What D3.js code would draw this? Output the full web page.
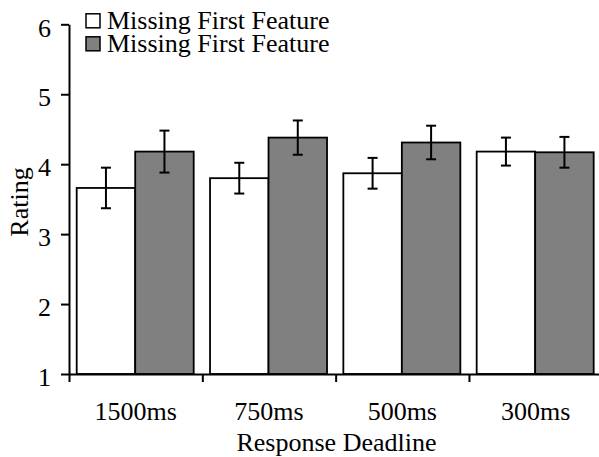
<!DOCTYPE html>
<html>
<head>
<meta charset="utf-8">
<script src="https://cdn.jsdelivr.net/npm/d3@7"></script>
<style>
html,body{margin:0;padding:0;background:#fff;}
svg{display:block;}
</style>
</head>
<body>
<svg id="chart" width="599" height="457"></svg>
<script>
const categories = ["1500ms", "750ms", "500ms", "300ms"];
const seriesNames = ["Missing First Feature", "Missing First Feature"];
const seriesKeys = ["s1", "s2"];
const whiteValues = [3.66, 3.80, 3.87, 4.18];
const whiteErrors = [0.29, 0.22, 0.22, 0.20];
const grayValues = [4.18, 4.38, 4.31, 4.17];
const grayErrors = [0.30, 0.245, 0.24, 0.22];
const yTicks = [1, 2, 3, 4, 5, 6];
const seriesColors = ["#ffffff", "#808080"];

const FONT = "Liberation Serif";
const FS = 26;
const svg = d3.select("#chart");

const y = d3.scaleLinear().domain([1, 6]).range([374, 24.3]);
const x0 = d3.scaleBand().domain(categories).range([69, 602.3]).paddingInner(0).paddingOuter(0);
const x1 = d3.scaleBand().domain(seriesKeys).range([7.7, 124.7]).padding(0);
const xb = d3.scaleLinear().domain([0, categories.length]).range([69, 602.3]);

const data = categories.map((c, i) => ({
  cat: c,
  vals: [
    {key: "s1", v: whiteValues[i], e: whiteErrors[i], color: seriesColors[0]},
    {key: "s2", v: grayValues[i], e: grayErrors[i], color: seriesColors[1]}
  ]
}));

// bars
const groups = svg.append("g").selectAll("g.grp").data(data).enter().append("g")
  .attr("transform", d => `translate(${x0(d.cat)},0)`);
groups.selectAll("rect").data(d => d.vals).enter().append("rect")
  .attr("x", d => x1(d.key))
  .attr("width", x1.bandwidth())
  .attr("y", d => y(d.v))
  .attr("height", d => y(1) - y(d.v))
  .attr("fill", d => d.color)
  .attr("stroke", "#000")
  .attr("stroke-width", 1.8);

// error bars
const eb = groups.selectAll("g.eb").data(d => d.vals).enter().append("g")
  .attr("stroke", "#000").attr("stroke-width", 2);
const cx = d => x1(d.key) + x1.bandwidth() / 2;
eb.append("line").attr("x1", cx).attr("x2", cx)
  .attr("y1", d => y(d.v + d.e)).attr("y2", d => y(d.v - d.e));
eb.append("line").attr("x1", d => cx(d) - 5).attr("x2", d => cx(d) + 5)
  .attr("y1", d => y(d.v + d.e)).attr("y2", d => y(d.v + d.e));
eb.append("line").attr("x1", d => cx(d) - 5).attr("x2", d => cx(d) + 5)
  .attr("y1", d => y(d.v - d.e)).attr("y2", d => y(d.v - d.e));

// y axis
const yAxis = svg.append("g").attr("transform", "translate(69,0)")
  .call(d3.axisLeft(y).tickValues(yTicks).tickFormat(d3.format("d")).tickSize(8).tickSizeOuter(0).tickPadding(10));
yAxis.attr("font-family", FONT).attr("font-size", FS);
yAxis.select(".domain").attr("stroke", "#000").attr("stroke-width", 2);
yAxis.selectAll(".tick line").attr("stroke", "#000").attr("stroke-width", 2);
yAxis.selectAll(".tick text").attr("font-family", FONT).attr("font-size", FS).attr("fill", "#000").attr("dy", "0.45em");

// x axis
const xAxis = svg.append("g").attr("transform", "translate(0,374)")
  .call(d3.axisBottom(xb).tickValues(d3.range(categories.length + 1)).tickFormat("").tickSize(8).tickSizeOuter(0));
xAxis.select(".domain").attr("stroke", "#000").attr("stroke-width", 2);
xAxis.selectAll(".tick line").attr("stroke", "#000").attr("stroke-width", 2);

// category labels
svg.append("g").selectAll("text").data(categories).enter().append("text")
  .attr("x", d => x0(d) + x0.bandwidth() / 2)
  .attr("y", 420)
  .attr("text-anchor", "middle")
  .attr("font-family", FONT)
  .attr("font-size", FS)
  .attr("fill", "#000")
  .text(d => d);

// axis titles
svg.append("text").attr("x", 336.5).attr("y", 451).attr("text-anchor", "middle")
  .attr("font-family", FONT).attr("font-size", FS).attr("fill", "#000").text("Response Deadline");
svg.append("text").attr("transform", "translate(28,202) rotate(-90)")
  .attr("text-anchor", "middle").attr("font-family", FONT).attr("font-size", FS).attr("fill", "#000").text("Rating");

// legend
const leg = svg.append("g");
seriesNames.forEach((name, i) => {
  const ly = 29.3 + i * 23;
  leg.append("rect").attr("x", 86).attr("y", ly - 15.5).attr("width", 14).attr("height", 14)
    .attr("fill", seriesColors[i]).attr("stroke", "#000").attr("stroke-width", 1.5);
  leg.append("text").attr("x", 107).attr("y", ly).attr("font-family", FONT).attr("font-size", FS)
    .attr("fill", "#000").text(name);
});
</script>
</body>
</html>
